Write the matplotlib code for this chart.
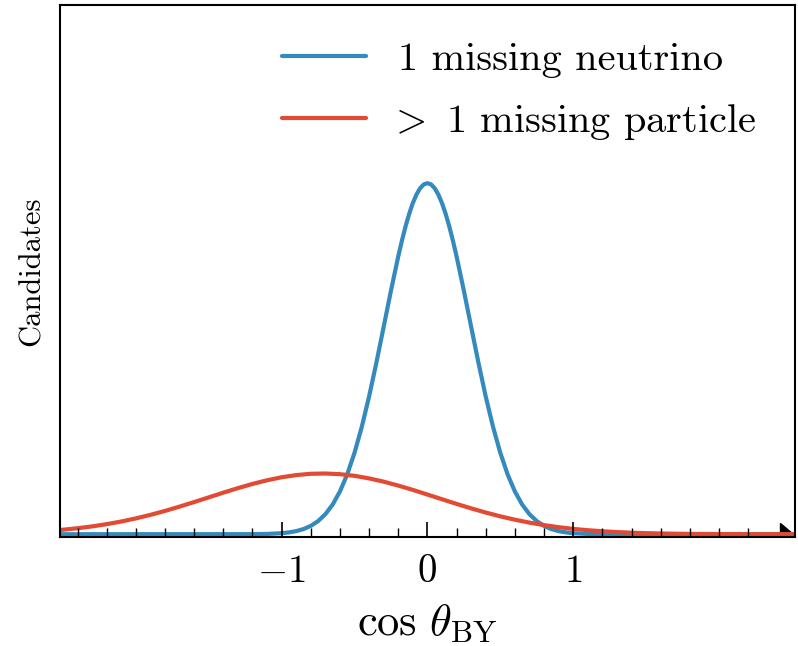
import matplotlib

matplotlib.use("Agg")
import matplotlib.pyplot as plt
from matplotlib.patches import Polygon
from matplotlib.ticker import FixedLocator

plt.rcParams["font.family"] = "serif"
plt.rcParams["font.serif"] = ["cmr10", "DejaVu Serif"]
plt.rcParams["mathtext.fontset"] = "cm"
plt.rcParams["axes.formatter.use_mathtext"] = True

# values (arbitrary units, blue peak = 1)
nu_x = [-2.52, -1.2, -1.1, -1.0, -0.95, -0.9, -0.85, -0.8, -0.75, -0.7, -0.65,
        -0.6, -0.55, -0.5, -0.45, -0.4, -0.35, -0.3, -0.25, -0.2, -0.175,
        -0.15, -0.125, -0.1, -0.075, -0.05, -0.025, 0.0, 0.025, 0.05, 0.075,
        0.1, 0.125, 0.15, 0.175, 0.2, 0.25, 0.3, 0.35, 0.4, 0.45, 0.5, 0.55,
        0.6, 0.65, 0.7, 0.75, 0.8, 0.85, 0.9, 0.95, 1.0, 1.1, 1.2, 2.52]
nu_y = [0.0, 0.0002, 0.0008, 0.0029, 0.0051, 0.0088, 0.0146, 0.0237, 0.0373,
        0.057, 0.0845, 0.1218, 0.1705, 0.2318, 0.306, 0.3923, 0.4885, 0.5908,
        0.6938, 0.7914, 0.836, 0.8767, 0.9127, 0.9432, 0.9676, 0.9855, 0.9964,
        1.0, 0.9964, 0.9855, 0.9676, 0.9432, 0.9127, 0.8767, 0.836, 0.7914,
        0.6938, 0.5908, 0.4885, 0.3923, 0.306, 0.2318, 0.1705, 0.1218, 0.0845,
        0.057, 0.0373, 0.0237, 0.0146, 0.0088, 0.0051, 0.0029, 0.0008, 0.0002,
        0.0]

multi_x = [-2.52, -2.5, -2.4, -2.3, -2.2, -2.1, -2.0, -1.9, -1.8, -1.7, -1.6,
           -1.5, -1.4, -1.3, -1.2, -1.1, -1.0, -0.9, -0.8, -0.7, -0.6, -0.5,
           -0.4, -0.3, -0.2, -0.1, 0.0, 0.1, 0.2, 0.3, 0.4, 0.5, 0.6, 0.7, 0.8,
           0.9, 1.0, 1.1, 1.2, 1.3, 1.4, 1.5, 1.6, 1.7, 1.8, 1.9, 2.0, 2.2, 2.52]
multi_y = [0.0121, 0.0128, 0.017, 0.0223, 0.0286, 0.0362, 0.045, 0.0551,
           0.0663, 0.0786, 0.0916, 0.1049, 0.1183, 0.1312, 0.1432, 0.1536,
           0.1622, 0.1684, 0.1721, 0.1729, 0.171, 0.1663, 0.159, 0.1497,
           0.1385, 0.1262, 0.113, 0.0996, 0.0863, 0.0736, 0.0617, 0.0509,
           0.0413, 0.033, 0.0259, 0.02, 0.0152, 0.0114, 0.0084, 0.0061,
           0.0043, 0.003, 0.0021, 0.0014, 0.0009, 0.0006, 0.0004, 0.0002,
           0.0001]

labels = ["1 missing neutrino", r"$\!\!\!>$ 1 missing particle"]
major_ticks = [-1, 0, 1]
major_labels = [r"$-1$", r"$0$", r"$1$"]
minor_ticks = [-2.4, -2.2, -2.0, -1.8, -1.6, -1.4, -1.2, -0.8, -0.6, -0.4,
               -0.2, 0.2, 0.4, 0.6, 0.8, 1.2, 1.4, 1.6, 1.8, 2.0, 2.2]

fig = plt.figure(figsize=(7.98, 6.46), dpi=100)
ax = fig.add_axes([0.0752, 0.1687, 0.9208, 0.8233])

ax.plot(nu_x, nu_y, color="#348ABD", linewidth=3, label=labels[0],
        solid_capstyle="round", zorder=2)
ax.plot(multi_x, multi_y, color="#E24A33", linewidth=3, label=labels[1],
        solid_capstyle="round", zorder=2)

ax.set_xlim(-2.52, 2.52)
ax.set_ylim(-0.008, 1.507)

ax.set_xticks(major_ticks)
ax.set_xticklabels(major_labels, fontsize=28)
ax.xaxis.set_minor_locator(FixedLocator(minor_ticks))
ax.tick_params(axis="x", which="major", direction="in", length=11, width=1.2,
               pad=12)
ax.tick_params(axis="x", which="minor", direction="in", length=6.5, width=1.0)
ax.set_yticks([])
ax.set_axisbelow(False)

for sp in ax.spines.values():
    sp.set_linewidth(1.5)
    sp.set_color("black")

ax.set_xlabel(r"$\cos\,\theta_{\rm BY}$", fontsize=32, labelpad=9)
ax.set_ylabel("Candidates", fontsize=22, labelpad=10)

# little arrowhead at the end of the x axis
ax.add_patch(Polygon([(0.980, 0.026), (0.980, 0.006), (0.998, 0.006)],
                     closed=True, transform=ax.transAxes, color="black",
                     clip_on=False))

ax.legend(loc="upper left", bbox_to_anchor=(0.253, 1.0), frameon=False,
          fontsize=29, handlelength=2.07, handletextpad=0.8, labelspacing=0.6)

fig.savefig("out.png", dpi=100)
plt.close(fig)
